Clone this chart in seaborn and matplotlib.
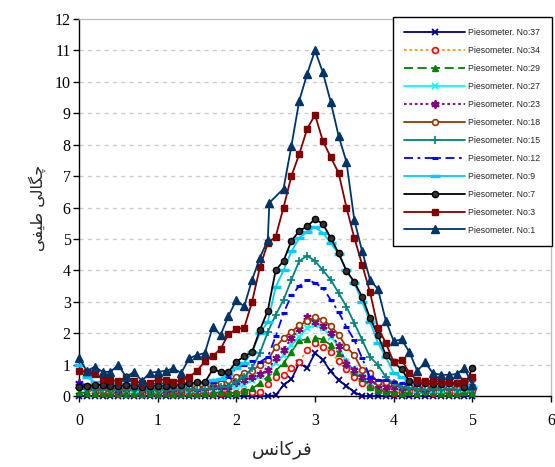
import matplotlib
matplotlib.use("Agg")
import matplotlib.pyplot as plt
import seaborn as sns
import pandas as pd

# Frequency axis (shared by all piezometers)
freq = [0.0, 0.1, 0.2, 0.3, 0.4, 0.5, 0.6, 0.7, 0.8, 0.9,
        1.0, 1.1, 1.2, 1.3, 1.4, 1.5, 1.6, 1.7, 1.8, 1.9,
        2.0, 2.1, 2.2, 2.3, 2.4, 2.5, 2.6, 2.7, 2.8, 2.9,
        3.0, 3.1, 3.2, 3.3, 3.4, 3.5, 3.6, 3.7, 3.8, 3.9,
        4.0, 4.1, 4.2, 4.3, 4.4, 4.5, 4.6, 4.7, 4.8, 4.9, 5.0]
# Piezometer No:1 was logged with one shifted frequency sample
freq_no1 = [0.0, 0.1, 0.2, 0.3, 0.4, 0.5, 0.6, 0.7, 0.8, 0.9,
            1.0, 1.1, 1.2, 1.3, 1.4, 1.5, 1.6, 1.7, 1.8, 1.9,
            2.0, 2.1, 2.2, 2.3, 2.4, 2.42, 2.6, 2.7, 2.8, 2.9,
            3.0, 3.1, 3.2, 3.3, 3.4, 3.5, 3.6, 3.7, 3.8, 3.9,
            4.0, 4.1, 4.2, 4.3, 4.4, 4.5, 4.6, 4.7, 4.8, 4.9, 5.0]

p37 = [0.0, 0.0, 0.0, 0.0, 0.0, 0.0, 0.0, 0.0, 0.0, 0.0,
       0.0, 0.0, 0.0, 0.0, 0.0, 0.0, 0.0, 0.0, 0.0, 0.0,
       0.0, 0.0, 0.0, 0.0, 0.0, 0.02, 0.35, 0.53, 1.05, 0.88,
       1.37, 1.15, 0.78, 0.5, 0.32, 0.12, 0.0, 0.0, 0.0, 0.0,
       0.0, 0.0, 0.0, 0.0, 0.0, 0.0, 0.0, 0.0, 0.0, 0.0, 0.0]
p34 = [0.3, 0.22, 0.12, 0.08, 0.08, 0.06, 0.08, 0.07, 0.06, 0.08,
       0.07, 0.08, 0.06, 0.07, 0.08, 0.06, 0.08, 0.07, 0.08, 0.09,
       0.1, 0.15, 0.12, 0.13, 0.38, 0.6, 0.67, 0.9, 1.09, 1.47,
       1.68, 1.55, 1.41, 1.1, 0.85, 0.6, 0.4, 0.28, 0.18, 0.12,
       0.1, 0.12, 0.15, 0.2, 0.12, 0.1, 0.12, 0.1, 0.1, 0.12, 0.15]
p29 = [0.12, 0.1, 0.08, 0.1, 0.08, 0.1, 0.06, 0.08, 0.07, 0.1,
       0.08, 0.1, 0.07, 0.09, 0.08, 0.1, 0.08, 0.1, 0.12, 0.1,
       0.1, 0.15, 0.24, 0.4, 0.62, 0.8, 1.05, 1.4, 1.78, 1.8,
       1.85, 1.8, 1.62, 1.37, 1.1, 0.75, 0.57, 0.3, 0.2, 0.15,
       0.12, 0.1, 0.12, 0.1, 0.15, 0.12, 0.1, 0.08, 0.1, 0.12, 0.1]
p27 = [0.3, 0.25, 0.22, 0.2, 0.2, 0.22, 0.2, 0.18, 0.2, 0.22,
       0.2, 0.2, 0.22, 0.2, 0.18, 0.2, 0.22, 0.25, 0.25, 0.28,
       0.3, 0.35, 0.5, 0.65, 0.8, 1.05, 1.3, 1.62, 1.88, 2.16,
       2.25, 2.16, 1.88, 1.6, 1.08, 0.83, 0.6, 0.45, 0.35, 0.3,
       0.28, 0.25, 0.22, 0.2, 0.22, 0.2, 0.2, 0.22, 0.2, 0.22, 0.25]
p23 = [0.42, 0.3, 0.25, 0.22, 0.25, 0.2, 0.22, 0.25, 0.2, 0.22,
       0.25, 0.2, 0.22, 0.2, 0.25, 0.22, 0.25, 0.3, 0.28, 0.3,
       0.45, 0.5, 0.6, 0.7, 0.83, 1.2, 1.47, 1.84, 2.13, 2.52,
       2.35, 2.23, 2.0, 1.6, 1.02, 0.83, 0.6, 0.5, 0.35, 0.3,
       0.28, 0.25, 0.3, 0.25, 0.22, 0.25, 0.28, 0.25, 0.25, 0.3, 0.25]
p18 = [0.3, 0.28, 0.25, 0.2, 0.22, 0.25, 0.22, 0.25, 0.22, 0.25,
       0.22, 0.25, 0.25, 0.22, 0.25, 0.28, 0.3, 0.45, 0.4, 0.5,
       0.6, 0.72, 0.8, 1.0, 1.15, 1.55, 1.85, 2.04, 2.25, 2.38,
       2.5, 2.42, 2.23, 1.95, 1.56, 1.3, 0.82, 0.73, 0.45, 0.45,
       0.4, 0.35, 0.3, 0.25, 0.3, 0.28, 0.3, 0.28, 0.3, 0.35, 0.55]
p15 = [0.25, 0.22, 0.2, 0.18, 0.2, 0.18, 0.2, 0.18, 0.2, 0.18,
       0.2, 0.18, 0.2, 0.2, 0.22, 0.2, 0.22, 0.25, 0.28, 0.3,
       0.45, 0.6, 0.89, 1.37, 2.04, 2.58, 3.06, 3.7, 4.3, 4.46,
       4.3, 4.0, 3.7, 3.28, 2.84, 2.32, 1.78, 1.24, 0.99, 0.6,
       0.4, 0.3, 0.25, 0.22, 0.2, 0.22, 0.2, 0.22, 0.2, 0.22, 0.2]
p12 = [0.4, 0.35, 0.38, 0.35, 0.4, 0.38, 0.35, 0.38, 0.35, 0.4,
       0.38, 0.4, 0.38, 0.4, 0.42, 0.4, 0.42, 0.45, 0.5, 0.6,
       0.9, 1.0, 1.1, 1.08, 1.24, 1.9, 2.64, 3.2, 3.5, 3.7,
       3.6, 3.44, 3.06, 2.68, 2.2, 1.78, 1.2, 0.6, 0.5, 0.5,
       0.45, 0.4, 0.38, 0.35, 0.38, 0.35, 0.38, 0.35, 0.35, 0.38, 0.35]
p9 = [1.0, 0.6, 0.45, 0.4, 0.38, 0.35, 0.38, 0.35, 0.32, 0.35,
      0.32, 0.35, 0.32, 0.35, 0.38, 0.4, 0.42, 0.5, 0.55, 0.7,
      0.9, 1.05, 1.4, 2.0, 2.36, 3.47, 4.0, 4.6, 5.03, 5.22,
      5.38, 5.19, 4.87, 4.52, 4.0, 3.6, 3.0, 2.36, 1.69, 1.24,
      0.73, 0.6, 0.5, 0.42, 0.4, 0.38, 0.35, 0.38, 0.35, 0.35, 0.3]
p7 = [0.3, 0.32, 0.35, 0.35, 0.33, 0.32, 0.35, 0.32, 0.3, 0.32,
      0.33, 0.32, 0.35, 0.35, 0.4, 0.43, 0.43, 0.85, 0.77, 0.77,
      1.09, 1.26, 1.4, 2.1, 2.72, 4.0, 4.3, 4.94, 5.25, 5.4,
      5.63, 5.48, 5.03, 4.55, 3.98, 3.63, 3.15, 2.48, 1.94, 1.3,
      1.07, 0.85, 0.47, 0.4, 0.4, 0.38, 0.38, 0.4, 0.4, 0.29, 0.89]
p3 = [0.8, 0.77, 0.7, 0.54, 0.5, 0.48, 0.6, 0.48, 0.41, 0.41,
      0.54, 0.5, 0.45, 0.5, 0.6, 0.8, 1.1, 1.27, 1.5, 1.97,
      2.13, 2.17, 3.0, 4.1, 4.87, 5.07, 6.0, 7.0, 7.7, 8.5,
      8.95, 8.12, 7.6, 7.1, 6.0, 5.03, 4.17, 3.3, 2.17, 1.69,
      1.08, 1.15, 0.73, 0.5, 0.48, 0.48, 0.45, 0.45, 0.41, 0.48, 0.6]
p1 = [1.2, 0.8, 0.93, 0.77, 0.77, 0.99, 0.6, 0.77, 0.48, 0.74,
      0.77, 0.8, 0.88, 0.73, 1.2, 1.3, 1.37, 2.2, 1.94, 2.55,
      3.05, 2.85, 3.7, 4.4, 4.97, 6.15, 6.6, 7.96, 9.4, 10.25,
      11.0, 10.3, 9.36, 8.28, 7.45, 5.6, 4.6, 3.7, 3.4, 2.4,
      1.75, 1.8, 1.4, 0.8, 1.07, 0.72, 0.68, 0.67, 0.7, 0.88, 0.35]

y_ticks = [0, 1, 2, 3, 4, 5, 6, 7, 8, 9, 10, 11, 12]
x_ticks = [0, 1, 2, 3, 4, 5, 6]
x_title = "فرکانس"
y_title = "چگالی طیفی"

# (label, x, y, line colour, linestyle, marker, marker size, face, edge, edge width)
series = [
    ("Piesometer. No:37", freq, p37, "#000080", "-", "x", 5, "#000080", "#000080", 1.3),
    ("Piesometer. No:34", freq, p34, "#FF9900", (0, (1.5, 1.5)), "o", 4.2, "white", "#FF0000", 1.2),
    ("Piesometer. No:29", freq, p29, "#008000", (0, (5, 2.5)), "^", 5, "#008000", "#008000", 1.0),
    ("Piesometer. No:27", freq, p27, "#00FFFF", "-", "x", 5, "#00FFFF", "#00FFFF", 1.3),
    ("Piesometer. No:23", freq, p23, "#800080", (0, (1.5, 1.5)), (6, 2, 0), 6, "#800080", "#800080", 1.3),
    ("Piesometer. No:18", freq, p18, "#993300", "-", "o", 4.2, "white", "#993300", 1.2),
    ("Piesometer. No:15", freq, p15, "#008080", "-", "+", 6, "#008080", "#008080", 1.2),
    ("Piesometer. No:12", freq, p12, "#0000FF", (0, (5, 2.5, 1.5, 2.5)), "_", 5, "#0000FF", "#0000FF", 2.2),
    ("Piesometer. No:9", freq, p9, "#00CCFF", "-", "_", 6.5, "#00CCFF", "#00CCFF", 2.5),
    ("Piesometer. No:7", freq, p7, "#000000", "-", "o", 4.5, "#333333", "#000000", 1.0),
    ("Piesometer. No:3", freq, p3, "#800000", "-", "s", 4.2, "#800000", "#800000", 1.0),
    ("Piesometer. No:1", freq_no1, p1, "#003366", "-", "^", 5.2, "#003366", "#003366", 1.0),
]

# Contextual glyph forms (isolated, final, initial, medial) for the Persian axis titles
FORMS = {
    "چ": ("\ufb7a", "\ufb7b", "\ufb7c", "\ufb7d"),
    "گ": ("\ufb92", "\ufb93", "\ufb94", "\ufb95"),
    "ک": ("\ufb8e", "\ufb8f", "\ufb90", "\ufb91"),
    "ی": ("\ufbfc", "\ufbfd", "\ufbfe", "\ufbff"),
    "ا": ("\ufe8d", "\ufe8e", None, None),
    "ر": ("\ufead", "\ufeae", None, None),
    "ل": ("\ufedd", "\ufede", "\ufedf", "\ufee0"),
    "ط": ("\ufec1", "\ufec2", "\ufec3", "\ufec4"),
    "ف": ("\ufed1", "\ufed2", "\ufed3", "\ufed4"),
    "ن": ("\ufee5", "\ufee6", "\ufee7", "\ufee8"),
    "س": ("\ufeb1", "\ufeb2", "\ufeb3", "\ufeb4"),
}


def shape_rtl(text):
    out = []
    for k, ch in enumerate(text):
        if ch not in FORMS:
            out.append(ch)
            continue
        prev = text[k - 1] if k > 0 else ""
        nxt = text[k + 1] if k + 1 < len(text) else ""
        joins_prev = prev in FORMS and FORMS[prev][2] is not None
        joins_next = nxt in FORMS and FORMS[ch][2] is not None
        iso, fin, ini, med = FORMS[ch]
        if joins_prev and joins_next:
            out.append(med)
        elif joins_prev:
            out.append(fin)
        elif joins_next:
            out.append(ini)
        else:
            out.append(iso)
    return "".join(reversed(out))


sns.set_theme(style="white")
plt.rcParams["font.family"] = ["Liberation Serif", "DejaVu Sans"]

fig = plt.figure(figsize=(5.55, 4.67), dpi=100)
ax = fig.add_axes([79 / 555, 1 - 396 / 467, 472 / 555, 377 / 467])

for label, xs, ys, color, ls, mk, ms, fc, ec, mew in series:
    df = pd.DataFrame({"f": xs, "v": ys})
    sns.lineplot(data=df, x="f", y="v", ax=ax, color=color, linestyle=ls,
                 linewidth=1.3, marker=mk, markersize=ms, markerfacecolor=fc,
                 markeredgecolor=ec, markeredgewidth=mew, label=label,
                 sort=False, estimator=None, clip_on=False, zorder=3)

ax.set_xlim(0, 6)
ax.set_ylim(0, 12)
ax.set_xticks(x_ticks)
ax.set_yticks(y_ticks)
ax.set_xticklabels([str(t) for t in x_ticks], fontsize=11.5, family="Liberation Serif")
ax.set_yticklabels([str(t) for t in y_ticks], fontsize=11.5, family="Liberation Serif")
ax.tick_params(axis="both", direction="out", length=4, width=1, color="black",
               labelcolor="black")
ax.tick_params(axis="x", pad=8)
ax.tick_params(axis="y", pad=2)
ax.xaxis.set_ticks_position("bottom")
ax.yaxis.set_ticks_position("left")

for y in y_ticks[1:-1]:
    ax.axhline(y, color="#CCCCCC", linewidth=1, linestyle=(0, (3, 3)), zorder=1)

ax.spines["left"].set_color("black")
ax.spines["bottom"].set_color("black")
ax.spines["top"].set_color("#C0C0C0")
ax.spines["right"].set_color("#C0C0C0")
for s in ax.spines.values():
    s.set_linewidth(1)

ax.set_xlabel(shape_rtl(x_title), fontsize=13, family=["DejaVu Sans"])
ax.set_ylabel(shape_rtl(y_title), fontsize=11.5, family=["DejaVu Sans"])
ax.xaxis.set_label_coords((282 - 79) / 472, -0.118)
ax.yaxis.set_label_coords(-0.07, 0.5)

handles, labels = ax.get_legend_handles_labels()
leg = ax.legend(handles, labels, loc="upper right",
                bbox_to_anchor=(552 / 555, 1 - 17 / 467),
                bbox_transform=fig.transFigure, borderaxespad=0,
                prop={"family": "Liberation Sans", "size": 6.3},
                handlelength=7.0, handletextpad=0.35, labelspacing=1.02,
                borderpad=1.3, numpoints=1, frameon=True, fancybox=False,
                edgecolor="black", framealpha=1)
leg.get_frame().set_linewidth(1)
leg.set_zorder(5)

fig.savefig("out.png", dpi=100)
